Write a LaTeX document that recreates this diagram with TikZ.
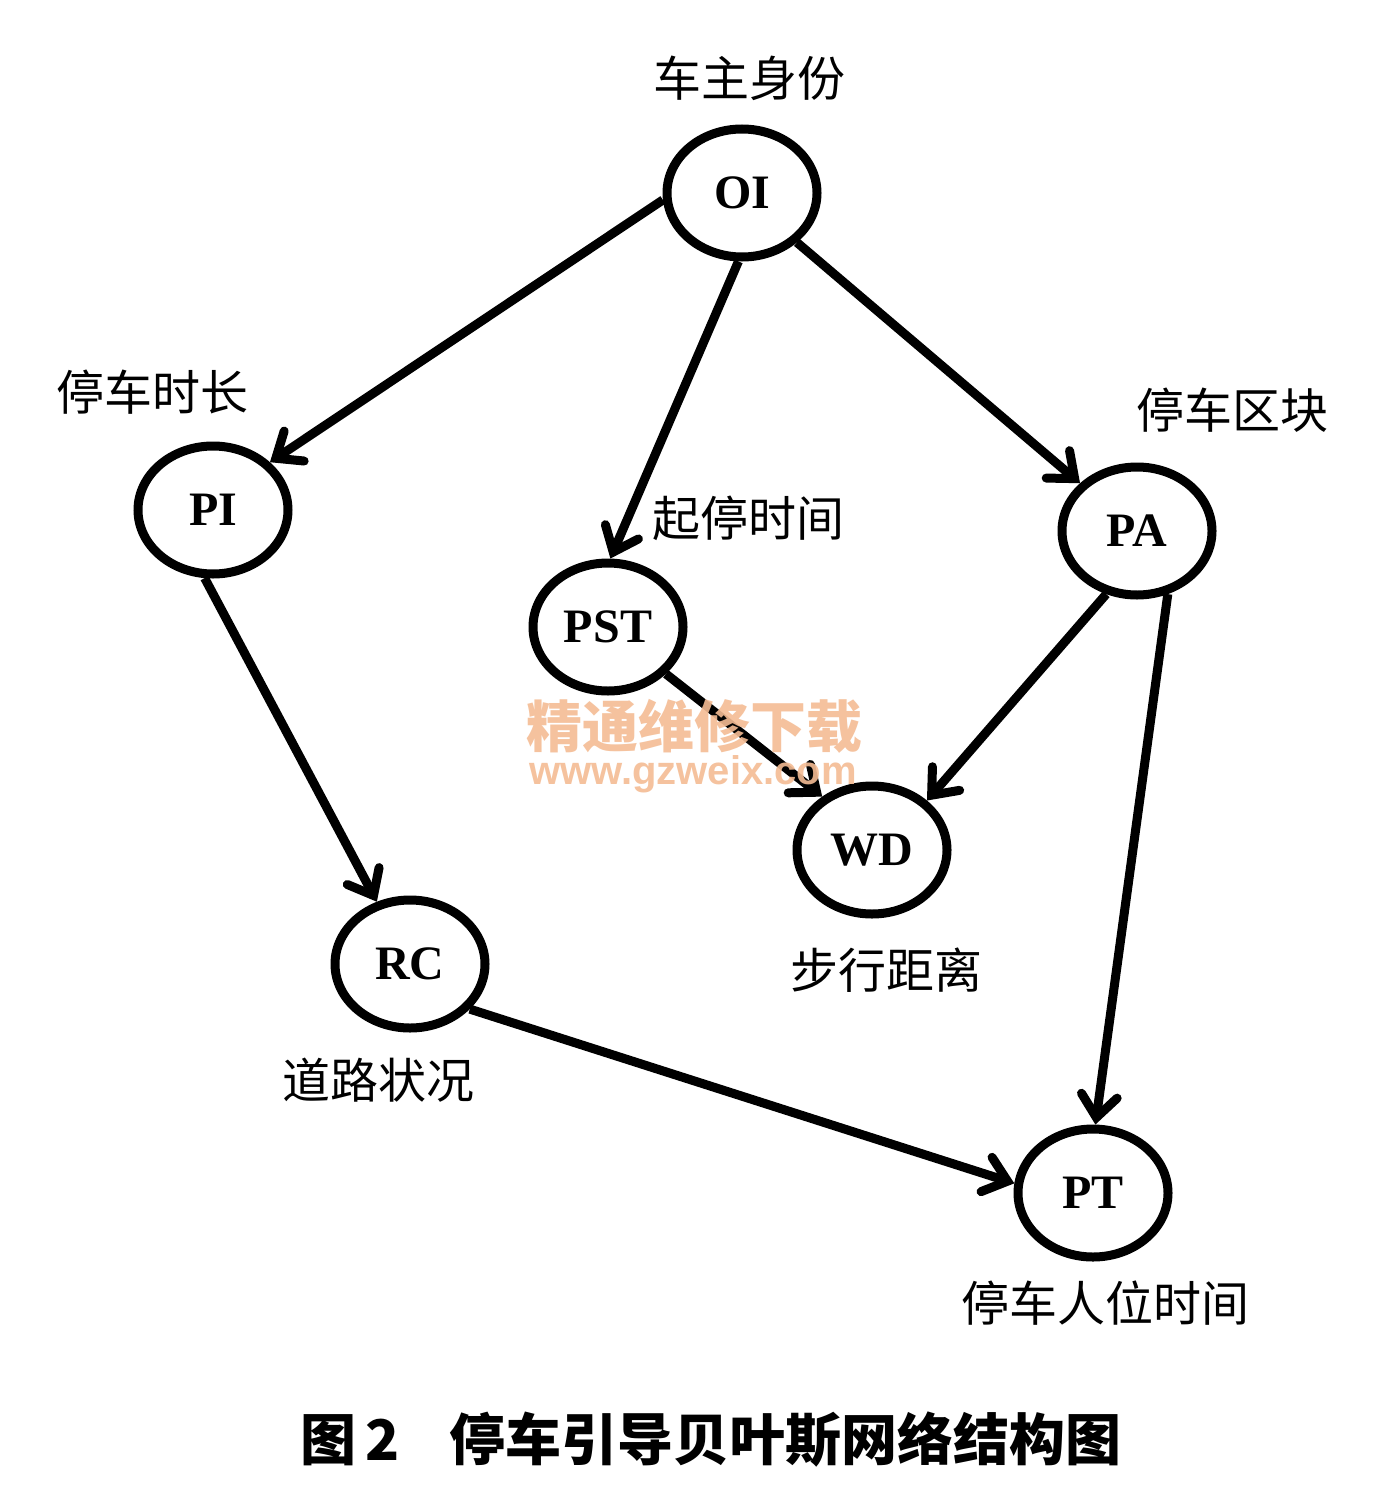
\documentclass[tikz,border=0pt]{standalone}
\usepackage{fontspec}
\setmainfont{Liberation Serif}
\newfontfamily\cjk{Noto Sans CJK SC}
\newfontfamily\wmsans{Liberation Sans}
\usetikzlibrary{shapes.geometric,arrows.meta}
\definecolor{wmorange}{RGB}{244,188,148}
\begin{document}
\begin{tikzpicture}[x=1pt,y=-1pt,
  bn/.style={draw, ellipse, line width=9pt, minimum width=150pt, minimum height=128pt,
    inner sep=0pt, font=\fontsize{48}{50}\selectfont\bfseries},
  lbl/.style={font=\cjk\fontsize{48}{52}\selectfont, inner sep=0pt},
  edge/.style={line width=9pt, -{Straight Barb[length=22pt,width=36pt,line width=9pt,line cap=round]}}
]
\useasboundingbox[fill=white] (0,0) rectangle (1388,1485);

\node[bn] (OI)  at (742,193)  {OI};
\node[bn] (PI)  at (213,510)  {PI};
\node[bn] (PST) at (608,627)  {PST};
\node[bn] (PA)  at (1137,531) {PA};
\node[bn] (WD)  at (872,850)  {WD};
\node[bn] (RC)  at (410,964)  {RC};
\node[bn] (PT)  at (1093,1193) {PT};

\node[lbl] (lOI)  at (749,78)   {车主身份};
\node[lbl] (lPI)  at (152,392)  {停车时长};
\node[lbl] (lPST) at (748,518)  {起停时间};
\node[lbl] (lPA)  at (1232,410) {停车区块};
\node[lbl] (lWD)  at (886,970)  {步行距离};
\node[lbl] (lRC)  at (378,1080) {道路状况};
\node[lbl] (lPT)  at (1105,1303) {停车人位时间};

\draw[edge] (OI.185) -- (PI.40);
\draw[edge] (OI.267) -- (PST.88);
\draw[edge] (OI.318) -- (PA.140);
\draw[edge] (PI.263) -- (RC.118);
\draw[edge] (PST.321) -- (WD.133);
\draw[edge] (PA.244) -- (WD.42);
\draw[edge] (PA.296) -- (PT.88);
\draw[edge] (RC.323) -- (PT.173);

\node[font=\cjk\bfseries\fontsize{56}{58}\selectfont, text=wmorange, opacity=0.9, inner sep=0pt] (wm1) at (694,726) {精通维修下载};
\node[font=\wmsans\bfseries\fontsize{40}{42}\selectfont, text=wmorange, opacity=0.9, inner sep=0pt] (wm2) at (693,774) {www.gzweix.com};

\node[font=\cjk\bfseries\fontsize{56}{58}\selectfont, anchor=west, inner sep=0pt] (cap) at (300,1440) {图\,2\hspace{50pt}停车引导贝叶斯网络结构图};
\end{tikzpicture}
\end{document}
